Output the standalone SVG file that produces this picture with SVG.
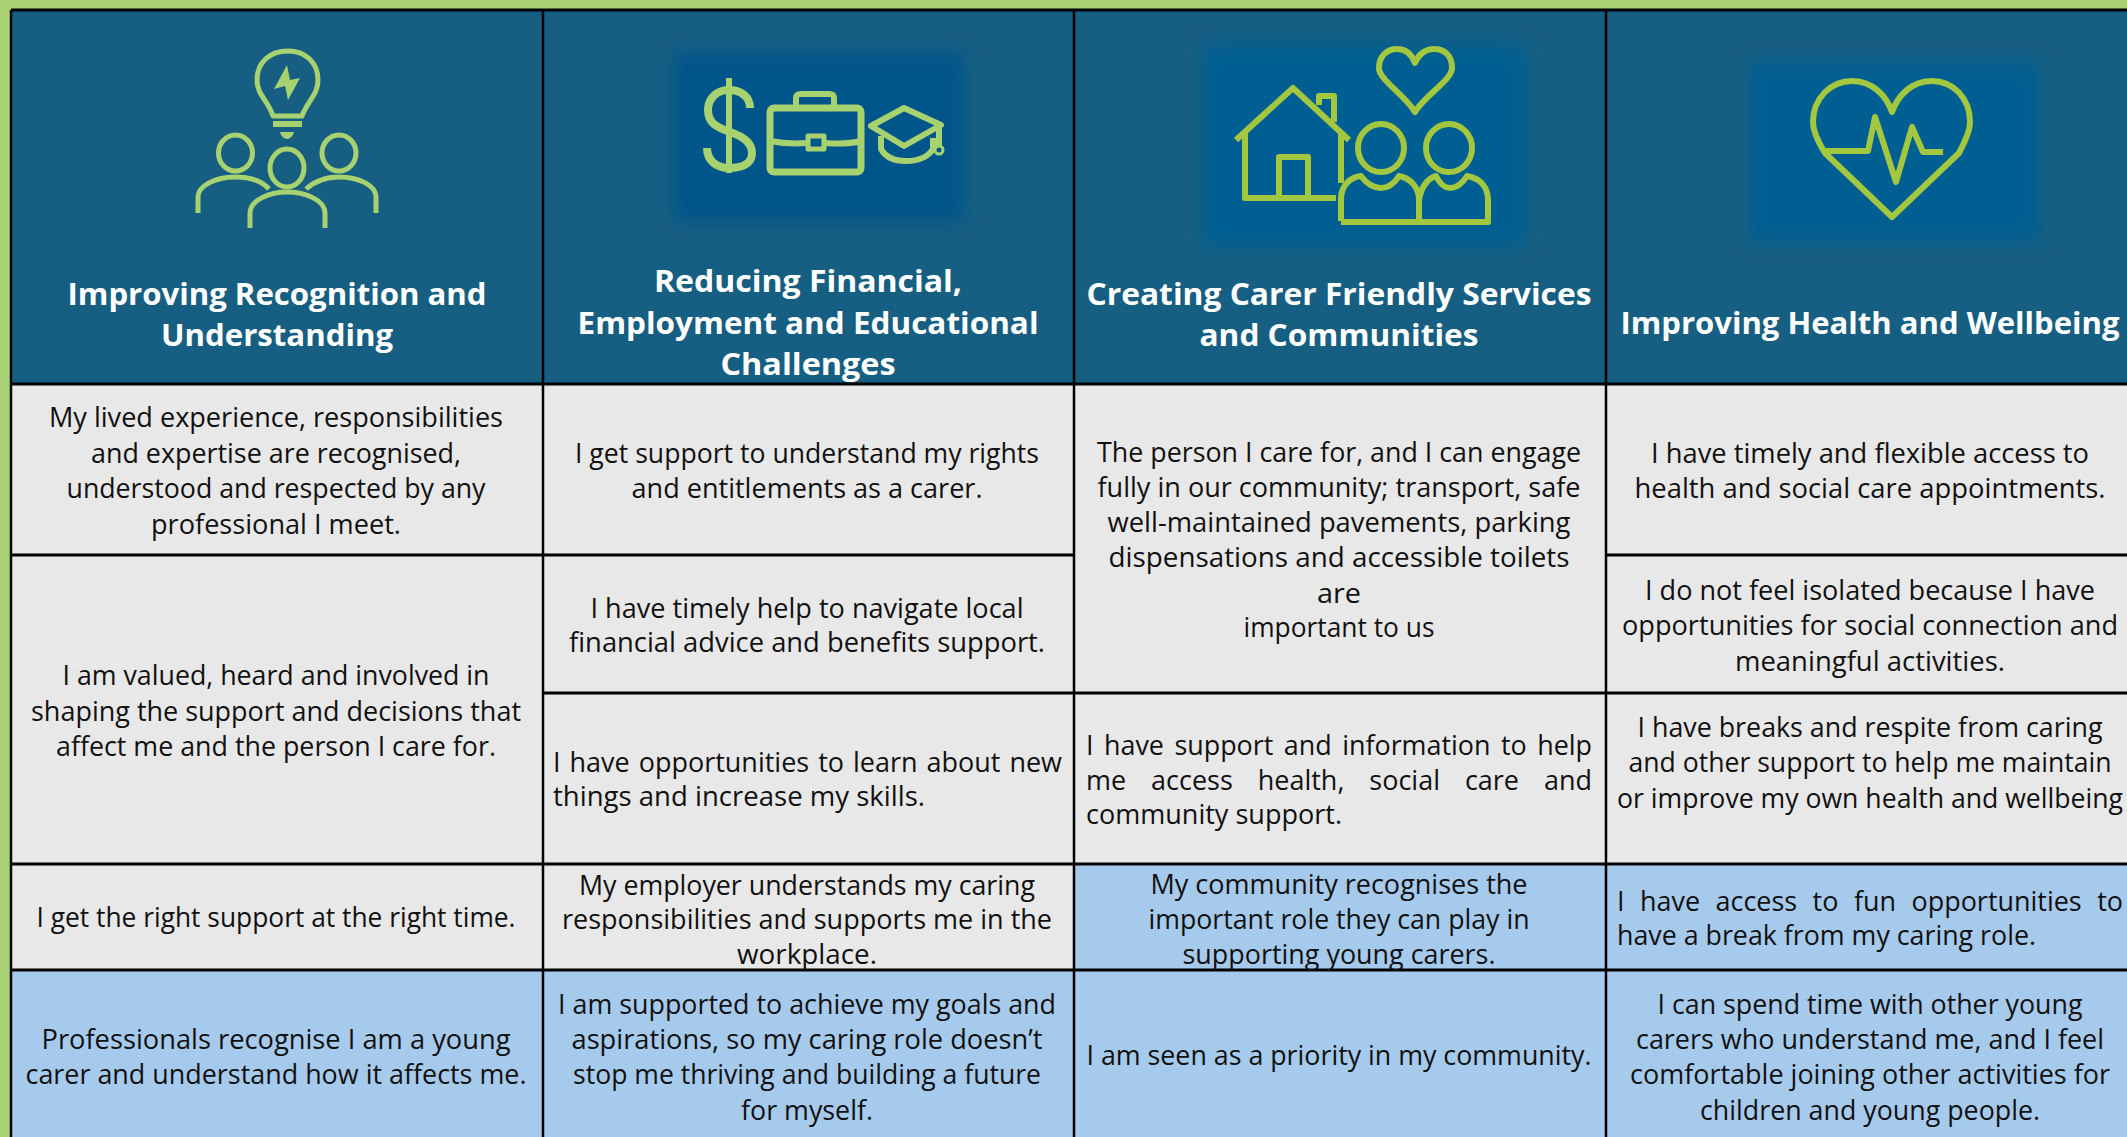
<svg xmlns="http://www.w3.org/2000/svg" width="2127" height="1137" viewBox="0 0 2127 1137">
<style>
.b{font-family:"Open Sans","Liberation Sans",sans-serif;font-size:27px;fill:#111;text-anchor:middle}
.l{text-anchor:start}
.h{font-family:"Open Sans","Liberation Sans",sans-serif;font-size:31px;font-weight:700;fill:#fff;text-anchor:middle}
.i{fill:none;stroke:#a8d170;stroke-width:5;stroke-linejoin:round}
.j{fill:none;stroke:#a3c83f;stroke-width:6;stroke-linejoin:round}
.g{fill:#e8e8e8}.u{fill:#a6caec}
.t{stroke:#000;stroke-width:2.500;fill:none}
.k{stroke:#000;stroke-width:3;fill:none}
</style>
<defs><filter id="bl" x="-20%" y="-20%" width="140%" height="140%"><feGaussianBlur stdDeviation="9"/></filter></defs>
<rect width="2127" height="1137" fill="#a9d274"/>
<g id="cells">
<rect x="11" y="10" width="2116" height="374" fill="#175f82"/>
<rect class="g" x="11" y="384" width="2116" height="480"/>
<rect class="g" x="11" y="864" width="1063" height="106"/>
<rect class="u" x="1074" y="864" width="1053" height="106"/>
<rect class="u" x="11" y="970" width="2116" height="167"/>
</g>
<g id="icon-recognition">
<path class="i" d="M273 116C268 100 257 95 257 80C257 62 270 51 288 51C305 51 318 62 318 80C318 95 308 100 302 116Z"/>
<rect x="273" y="121" width="29" height="6" fill="#a8d170"/>
<path d="M280 132H294C293 136 290 139 287 139C284 139 281 136 280 132Z" fill="#a8d170"/>
<path d="M287 65L274 89L285 86L288 100L300 78L290 80Z" fill="#a8d170"/>
<ellipse class="i" cx="235.500" cy="153" rx="17" ry="18"/><ellipse class="i" cx="339" cy="153" rx="17" ry="18"/><ellipse class="i" cx="287" cy="168" rx="17" ry="19"/>
<path class="i" d="M198 213V197C198 186 215 177 235 177C250 177 262 181 269 189"/>
<path class="i" d="M306 189C315 181 327 177 339 177C360 177 376 186 376 197V213"/>
<path class="i" d="M250 228V213C250 200 270 192 287 192C305 192 325 200 325 213V228"/>
</g>
<g id="icon-finance">
<rect x="674" y="52" width="290" height="170" fill="#00558a" filter="url(#bl)"/>
<path class="i" style="stroke-width:8" d="M750 108C750 96 740 90 729 90C715 90 708 100 708 110C708 125 720 128 730 132C742 136 752 142 752 153C752 165 740 168 729 168C716 168 707 160 707 148"/>
<path class="i" style="stroke-width:6" d="M729 78V173"/>
<rect class="i" style="stroke-width:7" x="770" y="108" width="91" height="64" rx="4"/>
<path class="i" style="stroke-width:6" d="M796 107V98C796 95 798 94 801 94H829C832 94 834 95 834 98V107M770 141C785 144 795 144 807 143M825 143C838 144 850 144 861 141"/>
<rect class="i" x="808" y="136" width="16" height="13"/>
<path class="i" style="stroke-width:6" d="M904 108L871 126L904 146L941 125Z"/>
<path class="i" style="stroke-width:6" d="M881 136V149C886 158 895 161 906 161C918 161 928 157 933 149V138M939 124V145"/>
<circle class="i" style="stroke-width:3" cx="939" cy="150" r="4"/>
</g>
<g id="icon-services">
<rect x="1203" y="44" width="322" height="202" fill="#005f92" filter="url(#bl)"/>
<path class="j" d="M1415 112C1405 95 1379 80 1379 68C1379 55 1388 49 1397 49C1406 49 1412 55 1415 63C1418 55 1425 49 1434 49C1444 49 1452 55 1452 68C1452 80 1425 95 1415 112Z"/>
<path class="j" d="M1236 140L1293 88L1349 140M1245 132V198H1336M1341 134V183M1279 198V157H1308V198M1319 105V96H1334V122"/>
<ellipse class="j" cx="1381" cy="148" rx="23" ry="24"/><ellipse class="j" cx="1449" cy="148" rx="23" ry="24"/>
<path class="j" d="M1341 221V199C1341 185 1351 177 1361 176C1367 184 1374 188 1381 188C1388 188 1394 184 1399 176C1410 178 1419 187 1419 200V221M1419 200C1421 187 1428 178 1436 176C1440 184 1445 188 1450 188C1456 188 1462 184 1467 176C1480 178 1488 187 1488 200V222H1341"/>
</g>
<g id="icon-health">
<rect x="1750" y="61" width="288" height="181" fill="#005f92" filter="url(#bl)"/>
<path class="j" d="M1892 217L1825 153C1817 140 1813 130 1813 122C1813 98 1831 81 1852 81C1872 81 1886 95 1892 112C1898 95 1912 81 1932 81C1953 81 1970 98 1970 122C1970 130 1966 140 1959 153Z"/>
<path class="j" d="M1826 151H1868L1875 117L1896 182L1912 127L1923 152H1943"/>
</g>
<g id="grid">
<path class="k" d="M11 384H2127M1074 693H2127M543 555H1074M1606 555H2127M11 555H543M543 693H1074M11 864H2127M11 970H2127M11 10H2127"/>
<path class="t" d="M11 10V1137M543 10V1137M1074 10V1137M1606 10V1137"/>
</g>
<g id="headers" transform="translate(0 1)">
<text class="h" x="277" y="304" textLength="419" lengthAdjust="spacingAndGlyphs">Improving Recognition and</text>
<text class="h" x="277" y="345" textLength="232" lengthAdjust="spacingAndGlyphs">Understanding</text>
<text class="h" x="808" y="291" textLength="308" lengthAdjust="spacingAndGlyphs">Reducing Financial,</text>
<text class="h" x="808" y="333" textLength="461" lengthAdjust="spacingAndGlyphs">Employment and Educational</text>
<text class="h" x="808" y="374" textLength="175" lengthAdjust="spacingAndGlyphs">Challenges</text>
<text class="h" x="1339" y="304" textLength="505" lengthAdjust="spacingAndGlyphs">Creating Carer Friendly Services</text>
<text class="h" x="1339" y="345" textLength="279" lengthAdjust="spacingAndGlyphs">and Communities</text>
<text class="h" x="1870" y="333" textLength="499" lengthAdjust="spacingAndGlyphs">Improving Health and Wellbeing</text>
</g>
<g id="col1" transform="translate(0 1)">
<text class="b" x="276" y="426" textLength="454" lengthAdjust="spacingAndGlyphs">My lived experience, responsibilities</text>
<text class="b" x="276" y="462" textLength="370" lengthAdjust="spacingAndGlyphs">and expertise are recognised,</text>
<text class="b" x="276" y="497" textLength="419" lengthAdjust="spacingAndGlyphs">understood and respected by any</text>
<text class="b" x="276" y="533" textLength="250" lengthAdjust="spacingAndGlyphs">professional I meet.</text>
<text class="b" x="276" y="684" textLength="427" lengthAdjust="spacingAndGlyphs">I am valued, heard and involved in</text>
<text class="b" x="276" y="720" textLength="490" lengthAdjust="spacingAndGlyphs">shaping the support and decisions that</text>
<text class="b" x="276" y="755" textLength="440" lengthAdjust="spacingAndGlyphs">affect me and the person I care for.</text>
<text class="b" x="276" y="926" textLength="479" lengthAdjust="spacingAndGlyphs">I get the right support at the right time.</text>
<text class="b" x="276" y="1048" textLength="469" lengthAdjust="spacingAndGlyphs">Professionals recognise I am a young</text>
<text class="b" x="276" y="1083" textLength="501" lengthAdjust="spacingAndGlyphs">carer and understand how it affects me.</text>
</g>
<g id="col2" transform="translate(0 1)">
<text class="b" x="807" y="462" textLength="464" lengthAdjust="spacingAndGlyphs">I get support to understand my rights</text>
<text class="b" x="807" y="497" textLength="351" lengthAdjust="spacingAndGlyphs">and entitlements as a carer.</text>
<text class="b" x="807" y="617" textLength="433" lengthAdjust="spacingAndGlyphs">I have timely help to navigate local</text>
<text class="b" x="807" y="651" textLength="476" lengthAdjust="spacingAndGlyphs">financial advice and benefits support.</text>
<text class="b l" x="553" y="771" word-spacing="2" textLength="509" lengthAdjust="spacingAndGlyphs">I have opportunities to learn about new</text>
<text class="b l" x="553" y="805" textLength="372" lengthAdjust="spacingAndGlyphs">things and increase my skills.</text>
<text class="b" x="807" y="894" textLength="456" lengthAdjust="spacingAndGlyphs">My employer understands my caring</text>
<text class="b" x="807" y="928" textLength="490" lengthAdjust="spacingAndGlyphs">responsibilities and supports me in the</text>
<text class="b" x="807" y="963" textLength="140" lengthAdjust="spacingAndGlyphs">workplace.</text>
<text class="b" x="807" y="1013" textLength="498" lengthAdjust="spacingAndGlyphs">I am supported to achieve my goals and</text>
<text class="b" x="807" y="1048" textLength="471" lengthAdjust="spacingAndGlyphs">aspirations, so my caring role doesn’t</text>
<text class="b" x="807" y="1083" textLength="468" lengthAdjust="spacingAndGlyphs">stop me thriving and building a future</text>
<text class="b" x="807" y="1119" textLength="132" lengthAdjust="spacingAndGlyphs">for myself.</text>
</g>
<g id="col3" transform="translate(0 1)">
<text class="b" x="1339" y="461" textLength="484" lengthAdjust="spacingAndGlyphs">The person I care for, and I can engage</text>
<text class="b" x="1339" y="496" textLength="483" lengthAdjust="spacingAndGlyphs">fully in our community; transport, safe</text>
<text class="b" x="1339" y="531" textLength="463" lengthAdjust="spacingAndGlyphs">well-maintained pavements, parking</text>
<text class="b" x="1339" y="566" textLength="461" lengthAdjust="spacingAndGlyphs">dispensations and accessible toilets</text>
<text class="b" x="1339" y="602" textLength="44" lengthAdjust="spacingAndGlyphs">are</text>
<text class="b" x="1339" y="636" textLength="191" lengthAdjust="spacingAndGlyphs">important to us</text>
<text class="b l" x="1086" y="754" word-spacing="3.500" textLength="506" lengthAdjust="spacingAndGlyphs">I have support and information to help</text>
<text class="b l" x="1086" y="789" word-spacing="18" textLength="506" lengthAdjust="spacingAndGlyphs">me access health, social care and</text>
<text class="b l" x="1086" y="823" textLength="256" lengthAdjust="spacingAndGlyphs">community support.</text>
<text class="b" x="1339" y="893" textLength="377" lengthAdjust="spacingAndGlyphs">My community recognises the</text>
<text class="b" x="1339" y="928" textLength="381" lengthAdjust="spacingAndGlyphs">important role they can play in</text>
<text class="b" x="1339" y="963" textLength="313" lengthAdjust="spacingAndGlyphs">supporting young carers.</text>
<text class="b" x="1339" y="1064" textLength="505" lengthAdjust="spacingAndGlyphs">I am seen as a priority in my community.</text>
</g>
<g id="col4" transform="translate(0 1)">
<text class="b" x="1870" y="462" textLength="438" lengthAdjust="spacingAndGlyphs">I have timely and flexible access to</text>
<text class="b" x="1870" y="497" textLength="471" lengthAdjust="spacingAndGlyphs">health and social care appointments.</text>
<text class="b" x="1870" y="599" textLength="450" lengthAdjust="spacingAndGlyphs">I do not feel isolated because I have</text>
<text class="b" x="1870" y="634" textLength="496" lengthAdjust="spacingAndGlyphs">opportunities for social connection and</text>
<text class="b" x="1870" y="670" textLength="270" lengthAdjust="spacingAndGlyphs">meaningful activities.</text>
<text class="b" x="1870" y="736" textLength="465" lengthAdjust="spacingAndGlyphs">I have breaks and respite from caring</text>
<text class="b" x="1870" y="771" textLength="483" lengthAdjust="spacingAndGlyphs">and other support to help me maintain</text>
<text class="b" x="1870" y="807" textLength="506" lengthAdjust="spacingAndGlyphs">or improve my own health and wellbeing</text>
<text class="b l" x="1617" y="910" word-spacing="8.500" textLength="506" lengthAdjust="spacingAndGlyphs">I have access to fun opportunities to</text>
<text class="b l" x="1617" y="944" textLength="419" lengthAdjust="spacingAndGlyphs">have a break from my caring role.</text>
<text class="b" x="1870" y="1013" textLength="425" lengthAdjust="spacingAndGlyphs">I can spend time with other young</text>
<text class="b" x="1870" y="1048" textLength="468" lengthAdjust="spacingAndGlyphs">carers who understand me, and I feel</text>
<text class="b" x="1870" y="1083" textLength="480" lengthAdjust="spacingAndGlyphs">comfortable joining other activities for</text>
<text class="b" x="1870" y="1119" textLength="340" lengthAdjust="spacingAndGlyphs">children and young people.</text>
</g>
</svg>
